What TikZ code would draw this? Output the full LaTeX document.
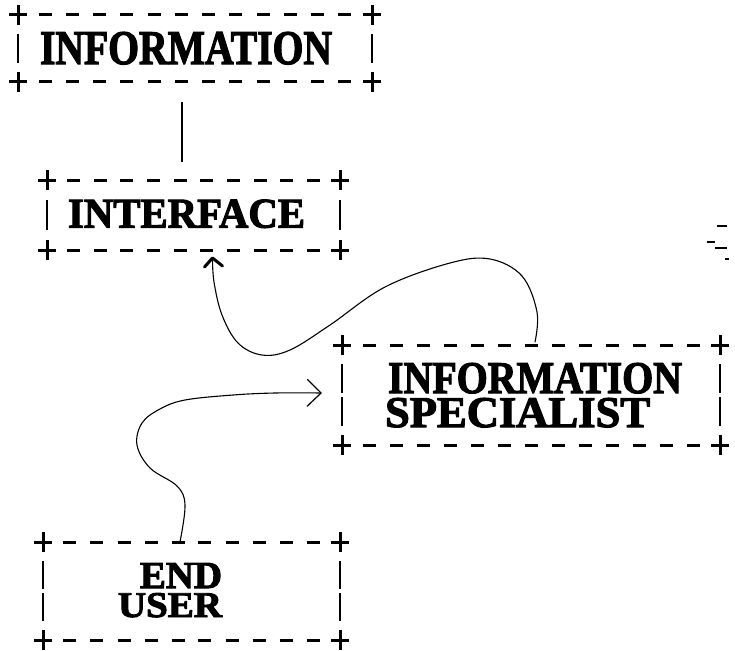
\documentclass[tikz,border=0pt]{standalone}
\usepackage{fontspec}
\usepackage{graphicx}
\usetikzlibrary{arrows.meta,calc}
\newfontfamily\tw{Liberation Serif}[BoldFeatures={FakeBold=2.6}]
\newcommand\ptxt[3]{\resizebox{#1pt}{#2pt}{\tw\bfseries #3}}
\newcommand\nodepth[1]{\raisebox{0pt}[\height][0pt]{#1}}
\tikzset{
  boxnode/.style={draw=none,inner sep=0pt,outer sep=0pt,rectangle},
  boxline/.style={line width=3pt,line cap=butt},
  vline/.style={line width=2.4pt,line cap=butt},
  txt/.style={inner sep=0pt,outer sep=0pt},
  conn/.style={line width=1.1pt,line cap=round},
  headA/.style={line width=3pt,line cap=round,line join=round},
  tipB/.tip={Straight Barb[length=14pt,width=27pt,line width=1.2pt]}
}
\newcommand\typebox[3]{%
  \foreach \c in {north west,north east,south west,south east}{
    \draw[boxline] ($(#1.\c)+(-9,0)$) -- ($(#1.\c)+(9,0)$)
                   ($(#1.\c)+(0,-10)$) -- ($(#1.\c)+(0,10)$);
  }
  \pgfmathtruncatemacro\nn{#2-1}
  \foreach \k in {1,...,\nn}{
    \draw[boxline] ($(#1.north west)!\k/#2!(#1.north east)+(-6.5,0)$) -- ($(#1.north west)!\k/#2!(#1.north east)+(6.5,0)$);
    \draw[boxline] ($(#1.south west)!\k/#2!(#1.south east)+(-6.5,0)$) -- ($(#1.south west)!\k/#2!(#1.south east)+(6.5,0)$);
  }
  \pgfmathtruncatemacro\rr{#3-1}
  \foreach \j in {1,...,\rr}{
    \pgfmathsetmacro\ja{(\j-0.43)/#3}
    \pgfmathsetmacro\jb{(\j+0.43)/#3}
    \draw[vline] ($(#1.north west)!\ja!(#1.south west)$) -- ($(#1.north west)!\jb!(#1.south west)$);
    \draw[vline] ($(#1.north east)!\ja!(#1.south east)$) -- ($(#1.north east)!\jb!(#1.south east)$);
  }
}
\begin{document}
\begin{tikzpicture}[x=1pt,y=-1pt]
\fill[white] (0,0) rectangle (735,650);
\useasboundingbox (0,0) rectangle (735,650);

% boxes
\node[boxnode,minimum width=354pt,minimum height=67pt] (b1) at (195,48.5) {};
\node[boxnode,minimum width=293pt,minimum height=70pt] (b2) at (193.5,215) {};
\node[boxnode,minimum width=378pt,minimum height=100pt] (b3) at (531,395) {};
\node[boxnode,minimum width=297pt,minimum height=98pt] (b4) at (191.5,591) {};
\typebox{b1}{13}{2}
\typebox{b2}{11}{2}
\typebox{b3}{14}{3}
\typebox{b4}{11}{3}

% texts
\node[txt,anchor=south west] (t1) at (40,64.5) {\ptxt{292}{32}{INFORMATION}};
\node[txt,anchor=south west] (t2) at (68,228) {\ptxt{237}{28}{INTERFACE}};
\node[txt,anchor=north west] (t3) at (385,363) {\vbox{\offinterlineskip
  \hbox{\kern3pt\nodepth{\ptxt{294}{30}{INFORMATION}}}\vskip5pt
  \hbox{\ptxt{265}{29}{SPECIALIST}}}};
\node[txt,anchor=north west] (t5) at (118,563) {\vbox{\offinterlineskip
  \hbox{\kern22pt\nodepth{\ptxt{82}{25}{END}}}\vskip5pt
  \hbox{\ptxt{104}{24}{USER}}}};

% connectors
\coordinate (a1) at ($(b1.south)+(-13,20)$);
\coordinate (a2) at ($(b2.north)+(-11.5,-18)$);
\draw[line width=2.2pt] (a1) -- (a2);

\coordinate (s1) at ($(b3.north)+(4,-3)$);
\coordinate (e1) at ($(b2.south)+(19,8)$);
\draw[conn] plot[smooth,tension=0.6] coordinates {(s1) (537,312) (522,276) (490,259) (450,263) (385,287) (330,325) (290,350) (262,355) (238,343) (222,315) (214,282) (e1)};
\draw[headA] ($(e1)+(-8,9)$) -- (e1) -- ($(e1)+(10,8)$);

\coordinate (s2) at ($(b4.north)+(-11.5,0)$);
\coordinate (e2) at ($(b3.west)+(-20,-2)$);
\draw[conn,-tipB] plot[smooth,tension=0.6] coordinates {(s2) (185,505) (177,486) (150,468) (137,445) (142,423) (160,409) (185,400) (233,395) (275,393) (e2)};

% stray marks
\draw[line width=2.2pt] (717,226) -- (727,226) (707,242) -- (715,242) (715,248) -- (727,248) (725,259) -- (729,259);
\end{tikzpicture}
\end{document}
